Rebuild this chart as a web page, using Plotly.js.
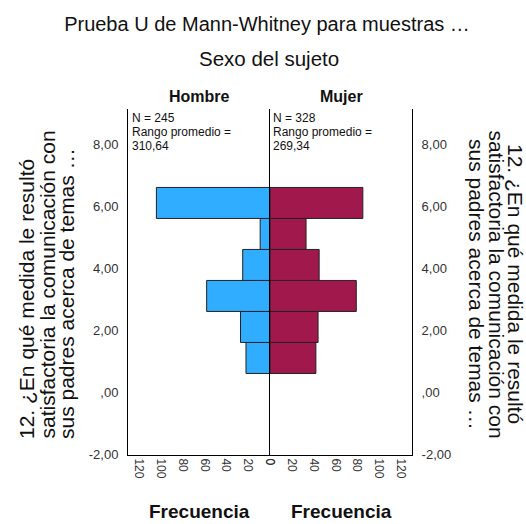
<!DOCTYPE html>
<html>
<head>
<meta charset="utf-8">
<script src="https://cdn.plot.ly/plotly-3.0.1.min.js"></script>
<style>html,body{margin:0;padding:0;background:#fff;}#chart{width:526px;height:524px;}</style>
</head>
<body>
<div id="chart"></div>
<script>
// ---- data ----
const chartTitle = 'Prueba U de Mann-Whitney para muestras …';
const groupVar = 'Sexo del sujeto';
const groups = ['Hombre', 'Mujer'];
const groupN = [245, 328];
const meanRank = [310.64, 269.34];
const levels = [1, 2, 3, 4, 5, 6];
const hombreFreq = [22, 27, 58, 25, 9, 104];
const mujerFreq = [42, 44, 79, 45, 33, 85];
const yTickVals = [-2, 0, 2, 4, 6, 8];
const xTickVals = [0, 20, 40, 60, 80, 100, 120];
const yTitleLines = ['12. ¿En qué medida le resultó', 'satisfactoria la comunicación con', 'sus padres acerca de temas …'];
const xTitle = 'Frecuencia';

// ---- helpers ----
const fmt = v => { const s = Math.abs(v).toFixed(2).replace('.', ','); const t = Math.abs(v) < 1 ? s.replace(/^0/, '') : s; return (v < 0 ? '-' : '') + t; };
const W = 526, H = 524, L = 128, R = 412, T = 109, B = 455;
const px = x => (x - L) / (R - L);
const py = y => (B - y) / (B - T);
const FONT = 'Liberation Sans, Arial, sans-serif';

const barStyle = (color) => ({ color: color, line: { color: '#222', width: 1 } });

const traces = [
  { type: 'bar', orientation: 'h', y: levels, x: hombreFreq, xaxis: 'x', yaxis: 'y', width: 1, offset: -0.4,
    marker: barStyle('#31adff'), name: groups[0], hoverinfo: 'x+y' },
  { type: 'bar', orientation: 'h', y: levels, x: mujerFreq, xaxis: 'x2', yaxis: 'y2', width: 1, offset: -0.4,
    marker: barStyle('#a0184c'), name: groups[1], hoverinfo: 'x+y' }
];

const axCommon = { showgrid: false, zeroline: false, showline: true, linecolor: '#000', linewidth: 1, ticks: '', fixedrange: true };
const xCommon = Object.assign({}, axCommon, { tickvals: xTickVals, ticktext: xTickVals.map(String), tickangle: 90,
  tickfont: { family: FONT, size: 12, color: '#333' } });
const yCommon = Object.assign({}, axCommon, { range: [-2.03, 9.13], tickvals: yTickVals, ticktext: yTickVals.map(fmt),
  tickfont: { family: FONT, size: 13, color: '#333' }, ticklabelstandoff: 6 });

const ann = [];
ann.push({ text: groupVar, xref: 'paper', yref: 'paper', x: px(269), y: py(58), xanchor: 'center', yanchor: 'middle', showarrow: false,
  font: { family: FONT, size: 20.5, color: '#111' } });
const panelCenters = [199, 341.5];
groups.forEach((g, i) => {
  ann.push({ text: '<b>' + g + '</b>', xref: 'paper', yref: 'paper', x: px(panelCenters[i]), y: py(96), xanchor: 'center', yanchor: 'middle',
    showarrow: false, font: { family: FONT, size: 16, color: '#111' } });
  ann.push({ text: '<b>' + xTitle + '</b>', xref: 'paper', yref: 'paper', x: px(panelCenters[i]), y: py(511.5), xanchor: 'center', yanchor: 'middle',
    showarrow: false, font: { family: FONT, size: 19, color: '#111' } });
  const left = i === 0 ? 129.5 : 271;
  const lines = ['N = ' + groupN[i], 'Rango promedio =', fmt(meanRank[i])];
  lines.forEach((t, k) => {
    ann.push({ text: t, xref: 'paper', yref: 'paper', x: px(left), y: py(118 + k * 14), xanchor: 'left', yanchor: 'middle',
      showarrow: false, font: { family: FONT, size: 12, color: '#111' } });
  });
});
const leftX = [26, 46.5, 66.5];
const rightX = [516, 496.5, 477];
yTitleLines.forEach((t, k) => {
  ann.push({ text: t, xref: 'paper', yref: 'paper', x: px(leftX[k]), y: py(441), xanchor: 'center', yanchor: 'bottom', textangle: -90,
    showarrow: false, font: { family: FONT, size: 21, color: '#111' } });
  ann.push({ text: t, xref: 'paper', yref: 'paper', x: px(rightX[k]), y: py(284), xanchor: 'center', yanchor: 'middle', textangle: 90,
    showarrow: false, font: { family: FONT, size: 21, color: '#111' } });
});

const layout = {
  width: W, height: H,
  margin: { l: L, r: W - R, t: T, b: H - B, pad: 0 },
  paper_bgcolor: '#fff', plot_bgcolor: '#fff',
  showlegend: false,
  bargap: 0,
  title: { text: chartTitle, x: 267 / W, xanchor: 'center', xref: 'container', y: 1 - 24 / H, yanchor: 'middle', yref: 'container',
    font: { family: FONT, size: 20, color: '#111' } },
  xaxis: Object.assign({}, xCommon, { domain: [0, 0.5], range: [130, 0], anchor: 'y' }),
  xaxis2: Object.assign({}, xCommon, { domain: [0.5, 1], range: [0, 130], anchor: 'y2' }),
  yaxis: Object.assign({}, yCommon, { anchor: 'x', side: 'left' }),
  yaxis2: Object.assign({}, yCommon, { anchor: 'x2', side: 'right', matches: 'y', mirror: true }),
  annotations: ann
};

Plotly.newPlot('chart', traces, layout, { displayModeBar: false, staticPlot: true });
</script>
</body>
</html>
